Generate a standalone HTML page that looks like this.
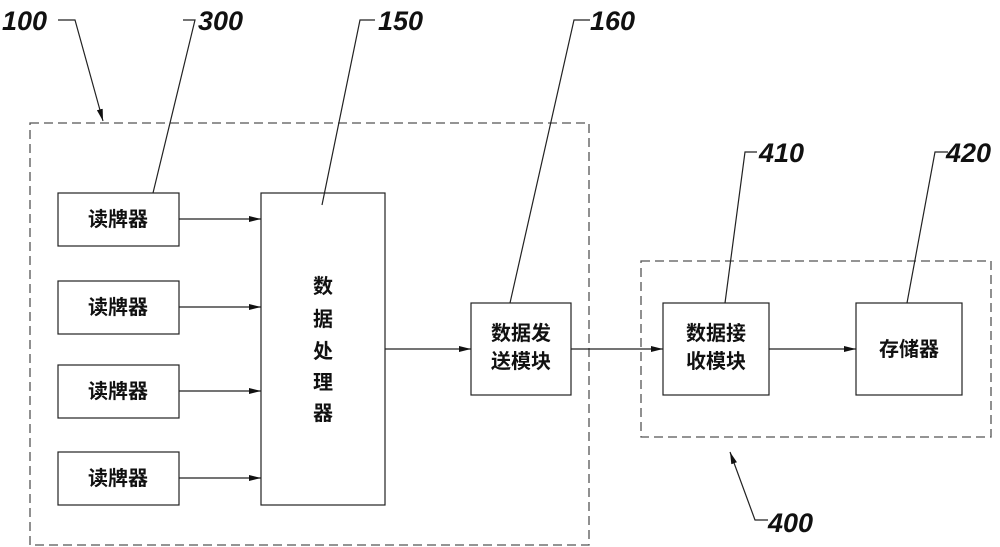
<!DOCTYPE html>
<html><head><meta charset="utf-8"><style>
body{margin:0;background:#fff;width:1000px;height:547px;overflow:hidden}
svg{display:block}
.n{font-family:"Liberation Sans","Noto Sans CJK SC",sans-serif;font-style:italic;font-weight:bold;font-size:27px;fill:#111}
.c{font-family:"Liberation Sans","Noto Sans CJK SC",sans-serif;font-size:20px;fill:#111;font-weight:bold}
</style></head><body>
<svg width="1000" height="547" viewBox="0 0 1000 547">
<defs><marker id="a" markerWidth="12" markerHeight="8" refX="12" refY="4" orient="auto" markerUnits="userSpaceOnUse"><path d="M0,1 L12,4 L0,7 z" fill="#111"/></marker></defs>
<g fill="none" stroke="#555" stroke-width="1.3" stroke-dasharray="9,5">
<rect x="30" y="123" width="559" height="422"/>
<rect x="641" y="261" width="350" height="176"/>
</g>
<g fill="#fff" stroke="#222" stroke-width="1.2">
<rect x="58" y="193" width="121" height="53"/>
<rect x="58" y="281" width="121" height="53"/>
<rect x="58" y="365" width="121" height="53"/>
<rect x="58" y="452" width="121" height="53"/>
<rect x="261" y="193" width="124" height="312"/>
<rect x="471" y="303" width="100" height="92"/>
<rect x="663" y="303" width="106" height="92"/>
<rect x="856" y="303" width="106" height="92"/>
</g>
<g stroke="#222" stroke-width="1.2" fill="none" marker-end="url(#a)">
<line x1="179" y1="219" x2="261" y2="219"/>
<line x1="179" y1="307" x2="261" y2="307"/>
<line x1="179" y1="391" x2="261" y2="391"/>
<line x1="179" y1="478" x2="261" y2="478"/>
<line x1="385" y1="349" x2="471" y2="349"/>
<line x1="571" y1="349" x2="663" y2="349"/>
<line x1="769" y1="349" x2="856" y2="349"/>
<polyline points="58,20 75,20 103,121"/>
<polyline points="768,520 755,520 730,452"/>
</g>
<g stroke="#222" stroke-width="1.2" fill="none">
<polyline points="183,20 195,20 153,193"/>
<polyline points="375,20 360,20 322,205"/>
<polyline points="590,20 574,20 510,303"/>
<polyline points="757,152 745,152 725,303"/>
<polyline points="948,152 935,152 907,303"/>
</g>
<text class="n" x="2" y="30">100</text>
<text class="n" x="198" y="30">300</text>
<text class="n" x="378" y="30">150</text>
<text class="n" x="590" y="30">160</text>
<text class="n" x="759" y="162">410</text>
<text class="n" x="946" y="162">420</text>
<text class="n" x="768" y="532">400</text>
<g class="c" text-anchor="middle">
<text x="118" y="226">读牌器</text>
<text x="118" y="314">读牌器</text>
<text x="118" y="398">读牌器</text>
<text x="118" y="485">读牌器</text>
<text x="323" y="293">数</text>
<text x="323" y="326">据</text>
<text x="323" y="358">处</text>
<text x="323" y="389">理</text>
<text x="323" y="420">器</text>
<text x="521" y="340">数据发</text>
<text x="521" y="368">送模块</text>
<text x="716" y="340">数据接</text>
<text x="716" y="368">收模块</text>
<text x="909" y="356">存储器</text>
</g>
</svg>
</body></html>
